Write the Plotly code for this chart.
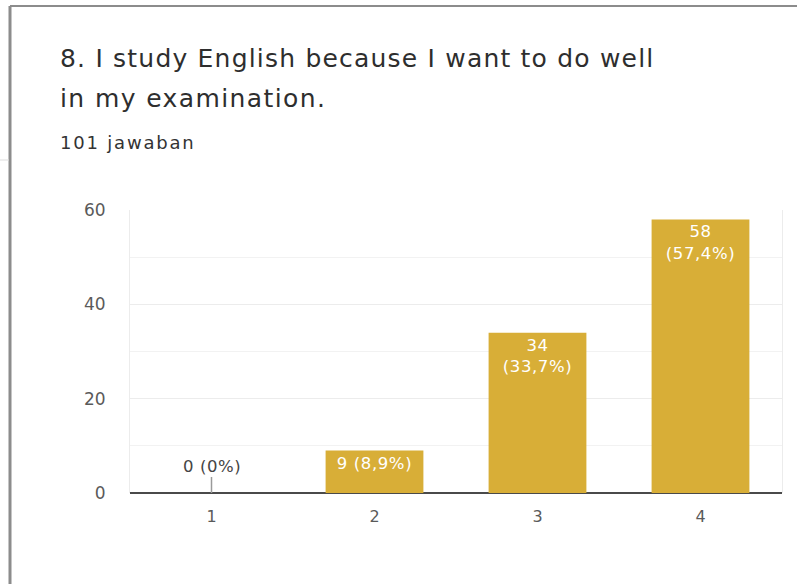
import plotly.graph_objects as go

# Survey item 8: answer counts on a 1-4 scale
categories = ["1", "2", "3", "4"]
counts = [0, 9, 34, 58]
total_responses = 101
y_ticks = [0, 20, 40, 60]

title_lines = ["8. I study English because I want to do well", "in my examination."]
subtitle = f"{total_responses} jawaban"

FONT = "DejaVu Sans"
BAR_COLOR = "#d8ae37"
TEXT_DARK = "#2e2e2e"
TICK_GRAY = "#5a5a5a"

W, H = 797, 584
ML, MR, MT, MB = 130, 15, 210, 91
PW, PH = W - ML - MR, H - MT - MB


def px_x(px):
    return (px - ML) / PW


def px_y(py):
    return (H - MB - py) / PH


def spaced(s, px):
    return f'<span style="letter-spacing:{px}px">{s}</span>'


def label(v):
    pct = f"{v / total_responses * 100:.1f}".replace(".", ",")
    if v == 0:
        return f"{v} (0%)"
    return f"{v} ({pct}%)" if v < 20 else f"{v}<br>({pct}%)"


bar_text = ["<br>".join(spaced(p, 0.6) for p in label(v).split("<br>")) if v > 0 else ""
            for v in counts]

fig = go.Figure(
    go.Bar(
        x=categories,
        y=counts,
        marker=dict(color=BAR_COLOR, line=dict(width=0)),
        text=bar_text,
        textposition="inside",
        insidetextanchor="end",
        textfont=dict(family=FONT, size=16.5, color="white"),
        hoverinfo="skip",
    )
)

# zero-count answers get a short stem with the label above it
for i, v in enumerate(counts):
    if v == 0:
        fig.add_annotation(
            x=i, y=v, text=spaced(label(v), 0.6), showarrow=True, arrowhead=0,
            arrowwidth=1.5, arrowcolor="#9a9a9a", ax=0, ay=-27,
            font=dict(family=FONT, size=16.5, color="#444444"),
        )

fig.add_annotation(
    xref="paper", yref="paper", x=px_x(58), y=px_y(58), xanchor="left", yanchor="middle",
    text=spaced(title_lines[0], 1.2), showarrow=False,
    font=dict(family=FONT, size=25, color=TEXT_DARK),
)
fig.add_annotation(
    xref="paper", yref="paper", x=px_x(58), y=px_y(98), xanchor="left", yanchor="middle",
    text=spaced(title_lines[1], 1.4), showarrow=False,
    font=dict(family=FONT, size=25, color=TEXT_DARK),
)
fig.add_annotation(
    xref="paper", yref="paper", x=px_x(58), y=px_y(142), xanchor="left", yanchor="middle",
    text=spaced(subtitle, 1.8), showarrow=False,
    font=dict(family=FONT, size=18, color="#333333"),
)

# card outline
fig.add_shape(type="line", xref="paper", yref="paper",
              x0=px_x(10), x1=px_x(797), y0=px_y(6), y1=px_y(6),
              line=dict(color="#8c8c8c", width=2))
fig.add_shape(type="line", xref="paper", yref="paper",
              x0=px_x(10), x1=px_x(10), y0=px_y(6), y1=px_y(584),
              line=dict(color="#8c8c8c", width=3))
fig.add_shape(type="line", xref="paper", yref="paper",
              x0=px_x(0), x1=px_x(9), y0=px_y(160), y1=px_y(160),
              line=dict(color="#dddddd", width=1))

fig.update_layout(
    width=W, height=H,
    margin=dict(l=ML, r=MR, t=MT, b=MB),
    paper_bgcolor="white", plot_bgcolor="white",
    bargap=0.4, showlegend=False,
    font=dict(family=FONT, color=TICK_GRAY),
)
fig.update_xaxes(
    type="category", range=[-0.5, 3.5], showgrid=False, showline=False,
    ticks="", tickfont=dict(family=FONT, size=16, color=TICK_GRAY),
    ticklabelstandoff=12, fixedrange=True,
)
fig.update_yaxes(
    range=[0, 60], tickvals=y_ticks, showgrid=True, gridcolor="#ececec", gridwidth=1,
    minor=dict(dtick=10, showgrid=True, gridcolor="#f2f2f2", gridwidth=1),
    showline=True, mirror=True, linecolor="#ececec", linewidth=1,
    zeroline=True, zerolinecolor="#4a4a4a", zerolinewidth=1.5,
    ticks="", tickfont=dict(family=FONT, size=17, color=TICK_GRAY),
    ticklabelstandoff=20, fixedrange=True,
)

fig.write_html("out.html")
